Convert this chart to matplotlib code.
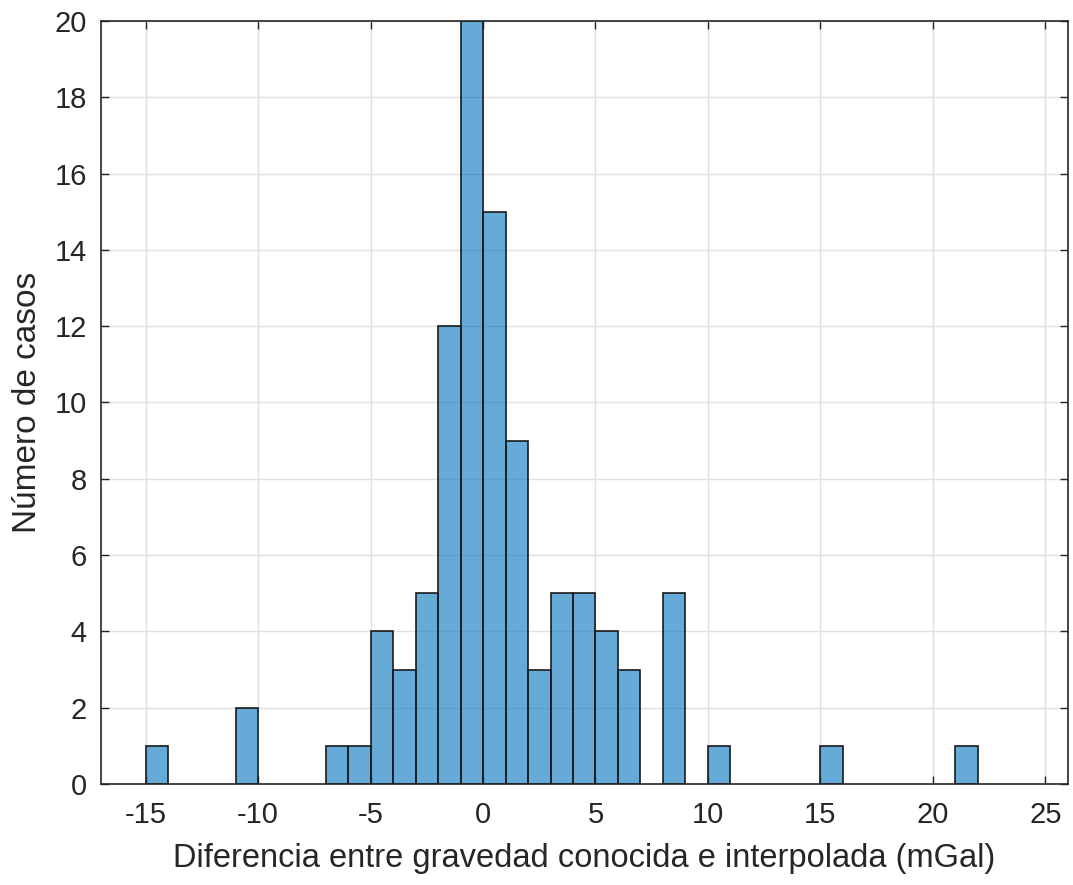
import matplotlib
matplotlib.use('Agg')
from matplotlib import pyplot

# histogram bins (left edge, width 1 mGal) and counts
bin_left = [-15, -11, -7, -6, -5, -4, -3, -2, -1, 0, 1, 2, 3, 4, 5, 6, 8, 10, 15, 21]
counts = [1, 2, 1, 1, 4, 3, 5, 12, 20, 15, 9, 3, 5, 5, 4, 3, 5, 1, 1, 1]
xticks = [-15, -10, -5, 0, 5, 10, 15, 20, 25]
yticks = list(range(0, 21, 2))

pyplot.rcParams['font.family'] = ['Liberation Sans', 'DejaVu Sans']
pyplot.rcParams['axes.unicode_minus'] = False

fig = pyplot.figure(figsize=(10.73, 8.85), dpi=100)
ax = fig.add_axes([0.0939, 0.1141, 0.9012, 0.8622])

ax.bar(bin_left, counts, width=1, align='edge',
       color=(0, 0.447, 0.741, 0.6), edgecolor='#1a1a1a', linewidth=1.2, zorder=3)

ax.set_xlim(-17, 26)
ax.set_ylim(0, 20)
ax.set_xticks(xticks)
ax.set_yticks(yticks)
ax.grid(True, color='#e0e0e0', linewidth=1, zorder=0)
ax.set_axisbelow(True)

ax.tick_params(direction='in', top=True, right=True, length=6, width=1,
               colors='#262626', labelsize=21)
ax.tick_params(axis='x', pad=12)
ax.tick_params(axis='y', pad=10)
for s in ax.spines.values():
    s.set_color('#262626')
    s.set_linewidth(1.2)
    s.set_zorder(4)

ax.set_xlabel('Diferencia entre gravedad conocida e interpolada (mGal)',
              fontsize=23.5, color='#262626', labelpad=10)
ax.set_ylabel('Número de casos', fontsize=24, color='#262626', labelpad=8)

fig.savefig('out.png')
